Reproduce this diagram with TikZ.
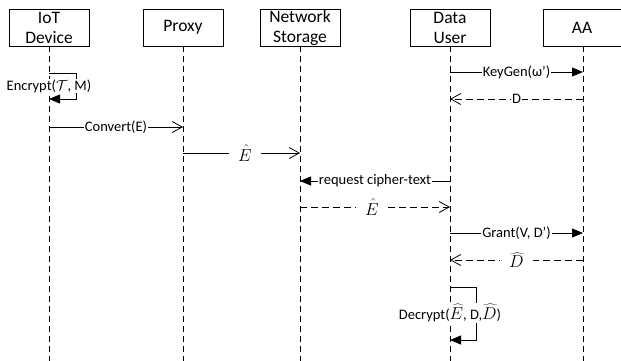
\documentclass[tikz,border=0pt]{standalone}
\usepackage{fontspec}
\setmainfont{Carlito}
\usetikzlibrary{arrows.meta}
\begin{document}
\begin{tikzpicture}[x=1pt,y=-1pt,
  actor/.style={draw, line width=0.9pt, minimum width=80pt, minimum height=37pt, inner sep=0pt, align=center, font=\fontsize{17.5}{20}\selectfont},
  life/.style={line width=0.8pt, dash pattern=on 6pt off 4pt},
  msg/.style={line width=0.8pt},
  reply/.style={line width=0.8pt, dash pattern=on 7pt off 4pt},
  lbl/.style={fill=white, inner sep=1pt, font=\fontsize{14.5}{16}\selectfont},
  mlbl/.style={fill=white, inner sep=1pt, inner xsep=9pt, font=\fontsize{18}{20}\selectfont},
  sync/.style={-{Triangle[length=11pt,width=9pt]}},
  open/.style={-{Straight Barb[length=10pt,width=11pt]}}]
\useasboundingbox (0,0) rectangle (621,360);
% actors
\node[actor] (iot) at (49,27.5) {IoT\\Device};
\node[actor] (proxy) at (183,27.5) {Proxy};
\node[actor] (store) at (300,27.5) {Network\\Storage};
\node[actor] (user) at (450,27.5) {Data\\User};
\node[actor, minimum width=78pt] (aa) at (582,27.5) {AA};
% lifeline ends
\coordinate (iotE) at (49,362);
\coordinate (proxyE) at (183,362);
\coordinate (storeE) at (300,362);
\coordinate (userE) at (450,362);
\coordinate (aaS) at (583,46);
\coordinate (aaE) at (583,362);
\draw[life] (iot.south) -- (iotE);
\draw[life] (proxy.south) -- (proxyE);
\draw[life] (store.south) -- (storeE);
\draw[life] (user.south) -- (userE);
\draw[life] (aaS) -- (aaE);
% Encrypt self message
\coordinate (e1) at (49,73);
\coordinate (e2) at (76,73);
\coordinate (e3) at (76,99);
\coordinate (e4) at (49,99);
\draw[msg, sync] (e1) -- (e2) -- (e3) -- (e4);
\node[lbl] (encl) at (49,86) {Encrypt($\mathcal{T}$, M)};
% Convert
\coordinate (c1) at (49,127);
\coordinate (c2) at (183,127);
\draw[msg, open] (c1) -- node[lbl] (convl) {Convert(E)} (c2);
% E hat proxy -> storage
\coordinate (p1) at (183,153);
\coordinate (p2) at (300,153);
\draw[msg, open] (p1) -- node[mlbl, pos=0.53] (ehat1) {$\hat{E}$} (p2);
% KeyGen
\coordinate (k1) at (450,72);
\coordinate (k2) at (583,72);
\draw[msg, sync] (k1) -- node[lbl] (keyl) {KeyGen(ω')} (k2);
% D reply
\coordinate (d1) at (583,99);
\coordinate (d2) at (450,99);
\draw[reply, open] (d1) -- node[lbl] (dl) {D} (d2);
% request cipher-text
\coordinate (r1) at (450,181);
\coordinate (r2) at (300,181);
\draw[msg, sync] (r1) -- node[lbl] (reql) {request cipher-text} (r2);
% E hat storage -> user
\coordinate (s1) at (300,207);
\coordinate (s2) at (450,207);
\draw[reply, open] (s1) -- node[mlbl, pos=0.48] (ehat2) {$\hat{E}$} (s2);
% Grant
\coordinate (g1) at (450,233);
\coordinate (g2) at (583,233);
\draw[msg, sync] (g1) -- node[lbl] (grantl) {Grant(V, D')} (g2);
% D hat reply
\coordinate (h1) at (583,260);
\coordinate (h2) at (450,260);
\draw[reply, open] (h1) -- node[mlbl, pos=0.5] (dhat) {$\widehat{D}$} (h2);
% Decrypt self message
\coordinate (x1) at (450,287);
\coordinate (x2) at (476,287);
\coordinate (x3) at (476,340);
\coordinate (x4) at (450,340);
\draw[msg, sync] (x1) -- (x2) -- (x3) -- (x4);
\node[lbl] (decl) at (450,313) {Decrypt({\fontsize{17}{19}\selectfont$\widehat{E}$}, D,{\fontsize{17}{19}\selectfont$\widehat{D}$})};
\end{tikzpicture}
\end{document}
